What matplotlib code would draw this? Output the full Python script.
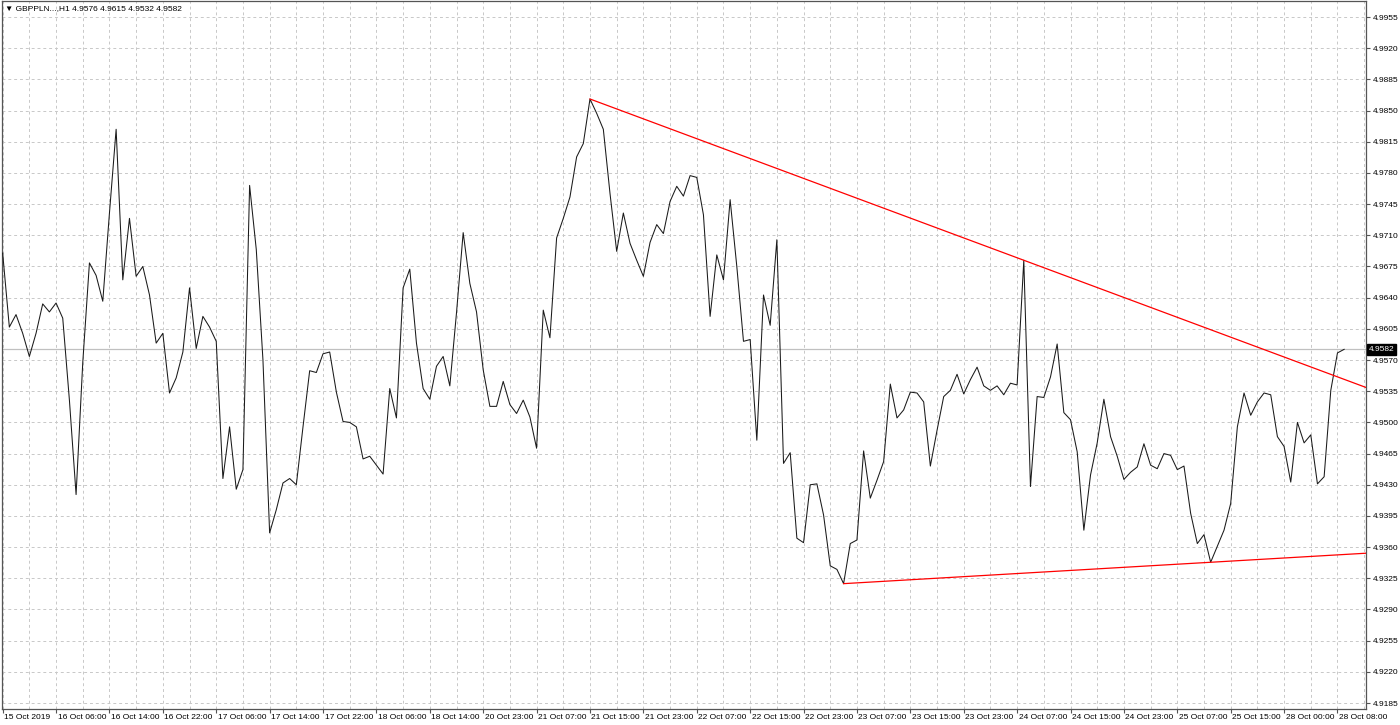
import matplotlib
matplotlib.use("Agg")
import matplotlib.pyplot as plt
from matplotlib.ticker import MultipleLocator, FixedLocator, FuncFormatter
import matplotlib.transforms as mtransforms

plt.rcParams['font.family'] = ['Liberation Sans', 'DejaVu Sans']

# GBPPLN H1 closes, one per bar
close = [
    4.9690, 4.9607, 4.9621, 4.9600, 4.9574, 4.9600, 4.9633, 4.9624, 4.9634, 4.9617,
    4.9525, 4.9419, 4.9567, 4.9679, 4.9665, 4.9636, 4.9735, 4.9829, 4.9660, 4.9729,
    4.9664, 4.9675, 4.9643, 4.9589, 4.9600, 4.9533, 4.9550, 4.9579, 4.9651, 4.9583,
    4.9619, 4.9607, 4.9591, 4.9437, 4.9495, 4.9425, 4.9447, 4.9766, 4.9694, 4.9570,
    4.9376, 4.9402, 4.9432, 4.9437, 4.9430, 4.9495, 4.9558, 4.9556, 4.9577, 4.9579,
    4.9534, 4.9501, 4.9500, 4.9495, 4.9459, 4.9462, 4.9452, 4.9442, 4.9538, 4.9505,
    4.9651, 4.9672, 4.9589, 4.9538, 4.9526, 4.9563, 4.9574, 4.9541, 4.9623, 4.9713,
    4.9656, 4.9624, 4.9559, 4.9518, 4.9518, 4.9546, 4.9520, 4.9510, 4.9525, 4.9506,
    4.9471, 4.9626, 4.9595, 4.9707, 4.9729, 4.9753, 4.9798, 4.9813, 4.9863, 4.9847,
    4.9829, 4.9757, 4.9692, 4.9735, 4.9701, 4.9682, 4.9664, 4.9702, 4.9722, 4.9712,
    4.9748, 4.9765, 4.9754, 4.9777, 4.9775, 4.9733, 4.9619, 4.9688, 4.9660, 4.9750,
    4.9675, 4.9591, 4.9593, 4.9480, 4.9643, 4.9609, 4.9705, 4.9454, 4.9466, 4.9370,
    4.9365, 4.9430, 4.9431, 4.9396, 4.9339, 4.9335, 4.9319, 4.9364, 4.9368, 4.9468,
    4.9415, 4.9435, 4.9456, 4.9543, 4.9505, 4.9514, 4.9534, 4.9533, 4.9523, 4.9451,
    4.9491, 4.9529, 4.9536, 4.9554, 4.9532, 4.9548, 4.9562, 4.9541, 4.9536, 4.9541,
    4.9531, 4.9544, 4.9542, 4.9682, 4.9428, 4.9529, 4.9528, 4.9551, 4.9588, 4.9511,
    4.9503, 4.9467, 4.9379, 4.9441, 4.9477, 4.9526, 4.9484, 4.9462, 4.9436, 4.9444,
    4.9450, 4.9476, 4.9452, 4.9448, 4.9465, 4.9463, 4.9447, 4.9451, 4.9398, 4.9364,
    4.9374, 4.9343, 4.9361, 4.9379, 4.9409, 4.9495, 4.9533, 4.9508, 4.9523, 4.9533,
    4.9531, 4.9484, 4.9473, 4.9433, 4.9500, 4.9477, 4.9486, 4.9431, 4.9439, 4.9536,
    4.9578, 4.9582,
]
bars = list(range(len(close)))

time_labels = [
    "15 Oct 2019", "16 Oct 06:00", "16 Oct 14:00", "16 Oct 22:00", "17 Oct 06:00",
    "17 Oct 14:00", "17 Oct 22:00", "18 Oct 06:00", "18 Oct 14:00", "20 Oct 23:00",
    "21 Oct 07:00", "21 Oct 15:00", "21 Oct 23:00", "22 Oct 07:00", "22 Oct 15:00",
    "22 Oct 23:00", "23 Oct 07:00", "23 Oct 15:00", "23 Oct 23:00", "24 Oct 07:00",
    "24 Oct 15:00", "24 Oct 23:00", "25 Oct 07:00", "25 Oct 15:00", "28 Oct 00:00",
    "28 Oct 08:00",
]
label_bars = list(range(0, 8 * len(time_labels), 8))

price_ticks = [round(4.9185 + 0.0035 * k, 4) for k in range(23)]

# trendlines: two anchor points each (bar, price)
upper_bars = [88, 153]
upper_prices = [4.9863, 4.9682]
lower_bars = [126, 181]
lower_prices = [4.9319, 4.9343]

bid = 4.9582
title = "\u25bc GBPPLN...,H1 4.9576 4.9615 4.9532 4.9582"

xmin, xmax = -0.1, 204.2
ymin, ymax = 4.91783, 4.99730

fig = plt.figure(figsize=(14, 7.25), dpi=100)
ax = fig.add_axes([2 / 1400, 16 / 725, 1363.5 / 1400, 708 / 725])
ax.set_xlim(xmin, xmax)
ax.set_ylim(ymin, ymax)

# grid
ax.xaxis.set_major_locator(FixedLocator(label_bars))
ax.xaxis.set_minor_locator(MultipleLocator(4))
ax.yaxis.set_major_locator(FixedLocator(price_ticks))
ax.set_xticklabels(time_labels)
ax.yaxis.set_major_formatter(FuncFormatter(lambda v, p: f"{v:.4f}"))
grid_kw = dict(color="#c8c8c8", linestyle=(0, (3, 3)), linewidth=0.7)
ax.grid(True, which="major", axis="both", **grid_kw)
ax.grid(True, which="minor", axis="x", **grid_kw)
ax.set_axisbelow(True)

# bid line
ax.axhline(bid, color="#c0c0c0", linewidth=0.9, zorder=2)

# price line
ax.plot(bars, close, color="#1a1a1a", linewidth=0.75, zorder=3)

# trendlines extended to the right edge
def ray(bx, py):
    slope = (py[1] - py[0]) / (bx[1] - bx[0])
    end = xmax + 5
    return [bx[0], end], [py[0], py[0] + slope * (end - bx[0])]

ux, uy = ray(upper_bars, upper_prices)
lx, ly = ray(lower_bars, lower_prices)
ax.plot(ux, uy, color="#ff0000", linewidth=0.9, zorder=4)
ax.plot(lx, ly, color="#ff0000", linewidth=0.9, zorder=4)

# axes styling
for side in ["left", "right", "top", "bottom"]:
    ax.spines[side].set_color("#555555")
    ax.spines[side].set_linewidth(0.9)

ax.tick_params(axis="y", which="major", left=False, right=True, labelleft=False,
               labelright=True, length=3, width=0.8, color="#555555",
               labelsize=6, pad=2)
ax.tick_params(axis="x", which="major", bottom=True, length=3, width=0.8,
               color="#555555", labelsize=6, pad=0.5)
ax.tick_params(axis="x", which="minor", bottom=False)
offset = mtransforms.ScaledTranslation(1.5 / 100, 0, fig.dpi_scale_trans)
for lbl in ax.get_xticklabels():
    lbl.set_horizontalalignment("left")
    lbl.set_transform(lbl.get_transform() + offset)

# bid price box
trans = mtransforms.blended_transform_factory(ax.transAxes, ax.transData)
ax.text(1.0025, bid, f"{bid:.4f}", transform=trans, color="white", fontsize=6,
        ha="left", va="center", zorder=10, clip_on=False,
        bbox=dict(facecolor="black", edgecolor="black", pad=1.2))

# symbol header
ax.text(0.002, 0.994, title, transform=ax.transAxes, fontsize=6, color="black",
        ha="left", va="top")

fig.savefig("out.png", dpi=100, facecolor="white")
